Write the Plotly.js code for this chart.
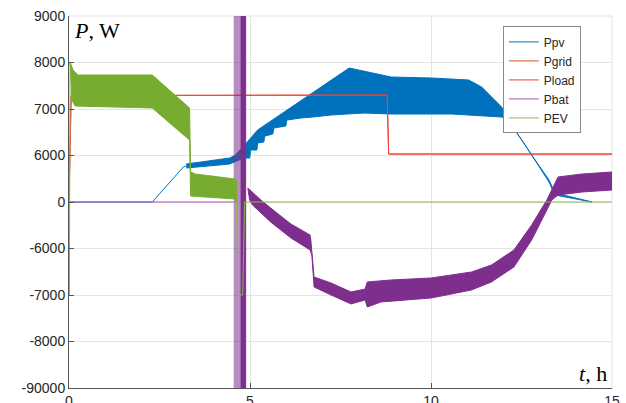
<!DOCTYPE html>
<html>
<head>
<meta charset="utf-8">
<script src="https://cdn.plot.ly/plotly-3.0.1.min.js"></script>
<style>html,body{margin:0;padding:0;background:#fff;}#chart{width:626px;height:403px;}</style>
</head>
<body>
<div id="chart"></div>
<script>
// ---- tick labels (as printed on the original figure) ----
const yTickVals = [-4000, -3000, -2000, -1000, 0, 1000, 2000, 3000, 4000];
const yTickText = ['-90000', '-8000', '-7000', '-6000', '0', '6000', '7000', '8000', '9000'];
const xTickVals = [0, 5, 10, 15];

// ---- Ppv ----
const tPvLine = [0, 2.30, 3.16, 3.24];
const pvLine  = [0, 0, 753, 774];
const tPvUpper = [3.24, 4.44, 4.60, 4.83, 5.21, 6.41, 7.74, 8.90, 10.01, 11.04, 11.40, 11.95, 12.23, 12.78, 13.26, 13.42, 14.45];
const pvUpper  = [817, 946, 1011, 1204, 1548, 2172, 2882, 2688, 2667, 2624, 2473, 2043, 1656, 1011, 473, 194, 0];
const tPvLower = [3.24, 4.44, 4.60, 4.83, 4.99, 5.02, 5.19, 5.21, 5.38, 5.41, 5.63, 5.66, 5.99, 6.02, 6.41, 6.74, 7.24, 8.15, 8.90, 10.57, 11.95, 12.09, 12.51, 12.87, 13.26, 13.42, 14.45];
const pvLower  = [731, 817, 860, 946, 946, 1118, 1118, 1269, 1290, 1419, 1462, 1591, 1634, 1763, 1806, 1828, 1871, 1914, 1892, 1892, 1828, 1785, 1333, 903, 430, 151, 0];

// ---- Pgrid / Pload ----
const tLoad = [0, 0.06, 8.79, 8.83, 15];
const pLoad = [0, 2290, 2300, 1032, 1032];
const pGrid = [0, 2290, 2300, 1032, 1032];

// ---- Pbat ----
const tBatLine = [0, 4.55];
const batLine  = [0, 0];
const tBatSpikeLight = [4.55, 4.74];
const tBatSpikeDark  = [4.74, 4.88];
const batSpikeTop = 4500;
const batSpikeBottom = -4500;
const tBatUpper = [4.94, 5.30, 5.71, 6.13, 6.66, 6.68, 6.77, 7.24, 7.79, 8.18, 8.24, 8.90, 10.01, 11.12, 11.67, 12.29, 12.78, 13.20, 13.51, 14.17, 15];
const batUpper  = [301, 43, -215, -473, -710, -817, -1613, -1742, -1935, -1871, -1720, -1677, -1634, -1505, -1355, -1032, -495, 43, 538, 602, 645];
const tBatLower = [4.94, 4.99, 5.07, 5.57, 6.13, 6.66, 6.71, 6.77, 7.24, 7.79, 8.18, 8.24, 8.62, 10.01, 11.12, 11.67, 12.29, 12.78, 13.34, 13.51, 14.17, 15];
const batLower  = [301, 43, -65, -430, -774, -1032, -1140, -1828, -2000, -2193, -2107, -2258, -2150, -2064, -1892, -1720, -1398, -817, 43, 151, 215, 258];

// ---- PEV ----
const tEvLine = [0, 0.01, 0.03, null, 4.63, 4.66, 4.80, 4.85, 15];
const evLine  = [0, -2000, 3011, null, 0, -2000, -2000, 0, 0];
const tEvUpper = [0.03, 0.11, 0.25, 2.30, 3.33, 3.36, 3.49, 4.58, 4.63];
const evUpper  = [3011, 2839, 2731, 2731, 2022, 645, 602, 495, 452];
const tEvLower = [0.03, 0.08, 0.17, 2.30, 3.33, 3.36, 3.63, 4.58, 4.63];
const evLower  = [3011, 2193, 2064, 2022, 1333, 129, 108, 65, 0];

const C = {pv:'#0072BD', grid:'#D95319', load:'#FF3A3A', bat:'#7E2F8E', ev:'#77AC30'};

function band(tU, yU, tL, yL, color, name, opacity) {
  return {
    x: tU.concat(tL.slice().reverse()),
    y: yU.concat(yL.slice().reverse()),
    type: 'scatter', mode: 'lines', fill: 'toself',
    fillcolor: color, line: {color: color, width: 1},
    opacity: opacity === undefined ? 1 : opacity,
    name: name, showlegend: false, hoverinfo: 'skip'
  };
}
function spike(tRange, top, bottom, color, name, opacity) {
  return band(tRange, [top, top], tRange, [bottom, bottom], color, name, opacity);
}

const traces = [
  {x: tPvLine, y: pvLine, type: 'scatter', mode: 'lines', name: 'Ppv', line: {color: C.pv, width: 1}},
  band(tPvUpper, pvUpper, tPvLower, pvLower, C.pv, 'Ppv'),
  {x: tLoad, y: pGrid, type: 'scatter', mode: 'lines', name: 'Pgrid', line: {color: C.grid, width: 1}},
  {x: tLoad, y: pLoad, type: 'scatter', mode: 'lines', name: 'Pload', line: {color: C.load, width: 1}},
  {x: tBatLine, y: batLine, type: 'scatter', mode: 'lines', name: 'Pbat', line: {color: '#A656BA', width: 1}},
  band(tBatUpper, batUpper, tBatLower, batLower, C.bat, 'Pbat'),
  spike(tBatSpikeLight, batSpikeTop, batSpikeBottom, C.bat, 'Pbat', 0.55),
  spike(tBatSpikeDark, batSpikeTop, batSpikeBottom, C.bat, 'Pbat', 1),
  band(tEvUpper, evUpper, tEvLower, evLower, C.ev, 'PEV'),
  {x: tEvLine, y: evLine, type: 'scatter', mode: 'lines', name: 'PEV', connectgaps: false, line: {color: '#88BC48', width: 1}}
];

const layout = {
  width: 626, height: 403,
  margin: {l: 69, r: 14, t: 16, b: 15, pad: 0},
  paper_bgcolor: '#ffffff', plot_bgcolor: '#ffffff',
  font: {family: 'Liberation Sans, Arial, sans-serif', size: 14, color: '#262626'},
  showlegend: true,
  legend: {
    x: 0.799, y: 0.972, xanchor: 'left', yanchor: 'top',
    bgcolor: '#ffffff', bordercolor: '#8a8a8a', borderwidth: 1,
    font: {family: 'Liberation Sans, Arial, sans-serif', size: 12, color: '#262626'},
    tracegroupgap: 0
  },
  xaxis: {
    range: [0, 15], tickmode: 'array', tickvals: xTickVals, ticktext: ['0', '5', '10', '15'],
    showgrid: true, gridcolor: '#e4e4e4', gridwidth: 1, zeroline: false,
    showline: true, linecolor: '#555555', linewidth: 1, mirror: false,
    ticks: 'inside', ticklen: 5, tickcolor: '#555555',
    tickfont: {size: 14, color: '#262626'}
  },
  yaxis: {
    range: [-4000, 4000], tickmode: 'array', tickvals: yTickVals, ticktext: yTickText,
    showgrid: true, gridcolor: '#e4e4e4', gridwidth: 1, zeroline: false,
    showline: true, linecolor: '#555555', linewidth: 1, mirror: false,
    ticks: 'inside', ticklen: 5, tickcolor: '#555555',
    tickfont: {size: 14, color: '#262626'}
  },
  shapes: [
    {type: 'line', xref: 'paper', yref: 'paper', x0: 0, x1: 1, y0: 1, y1: 1, line: {color: '#e4e4e4', width: 1}, layer: 'below'},
    {type: 'line', xref: 'paper', yref: 'paper', x0: 1, x1: 1, y0: 0, y1: 1, line: {color: '#e4e4e4', width: 1}, layer: 'below'}
  ],
  annotations: [
    {text: '<i>P</i>, W', xref: 'paper', yref: 'paper', x: 0.006, y: 0.962, xanchor: 'left', yanchor: 'middle',
     showarrow: false, font: {family: 'Liberation Serif, Times New Roman, serif', size: 22, color: '#000000'}},
    {text: '<i>t</i>, h', xref: 'paper', yref: 'paper', x: 0.995, y: 0.04, xanchor: 'right', yanchor: 'middle',
     showarrow: false, font: {family: 'Liberation Serif, Times New Roman, serif', size: 22, color: '#000000'}}
  ]
};

Plotly.newPlot('chart', traces, layout, {displayModeBar: false, staticPlot: true});
</script>
</body>
</html>
